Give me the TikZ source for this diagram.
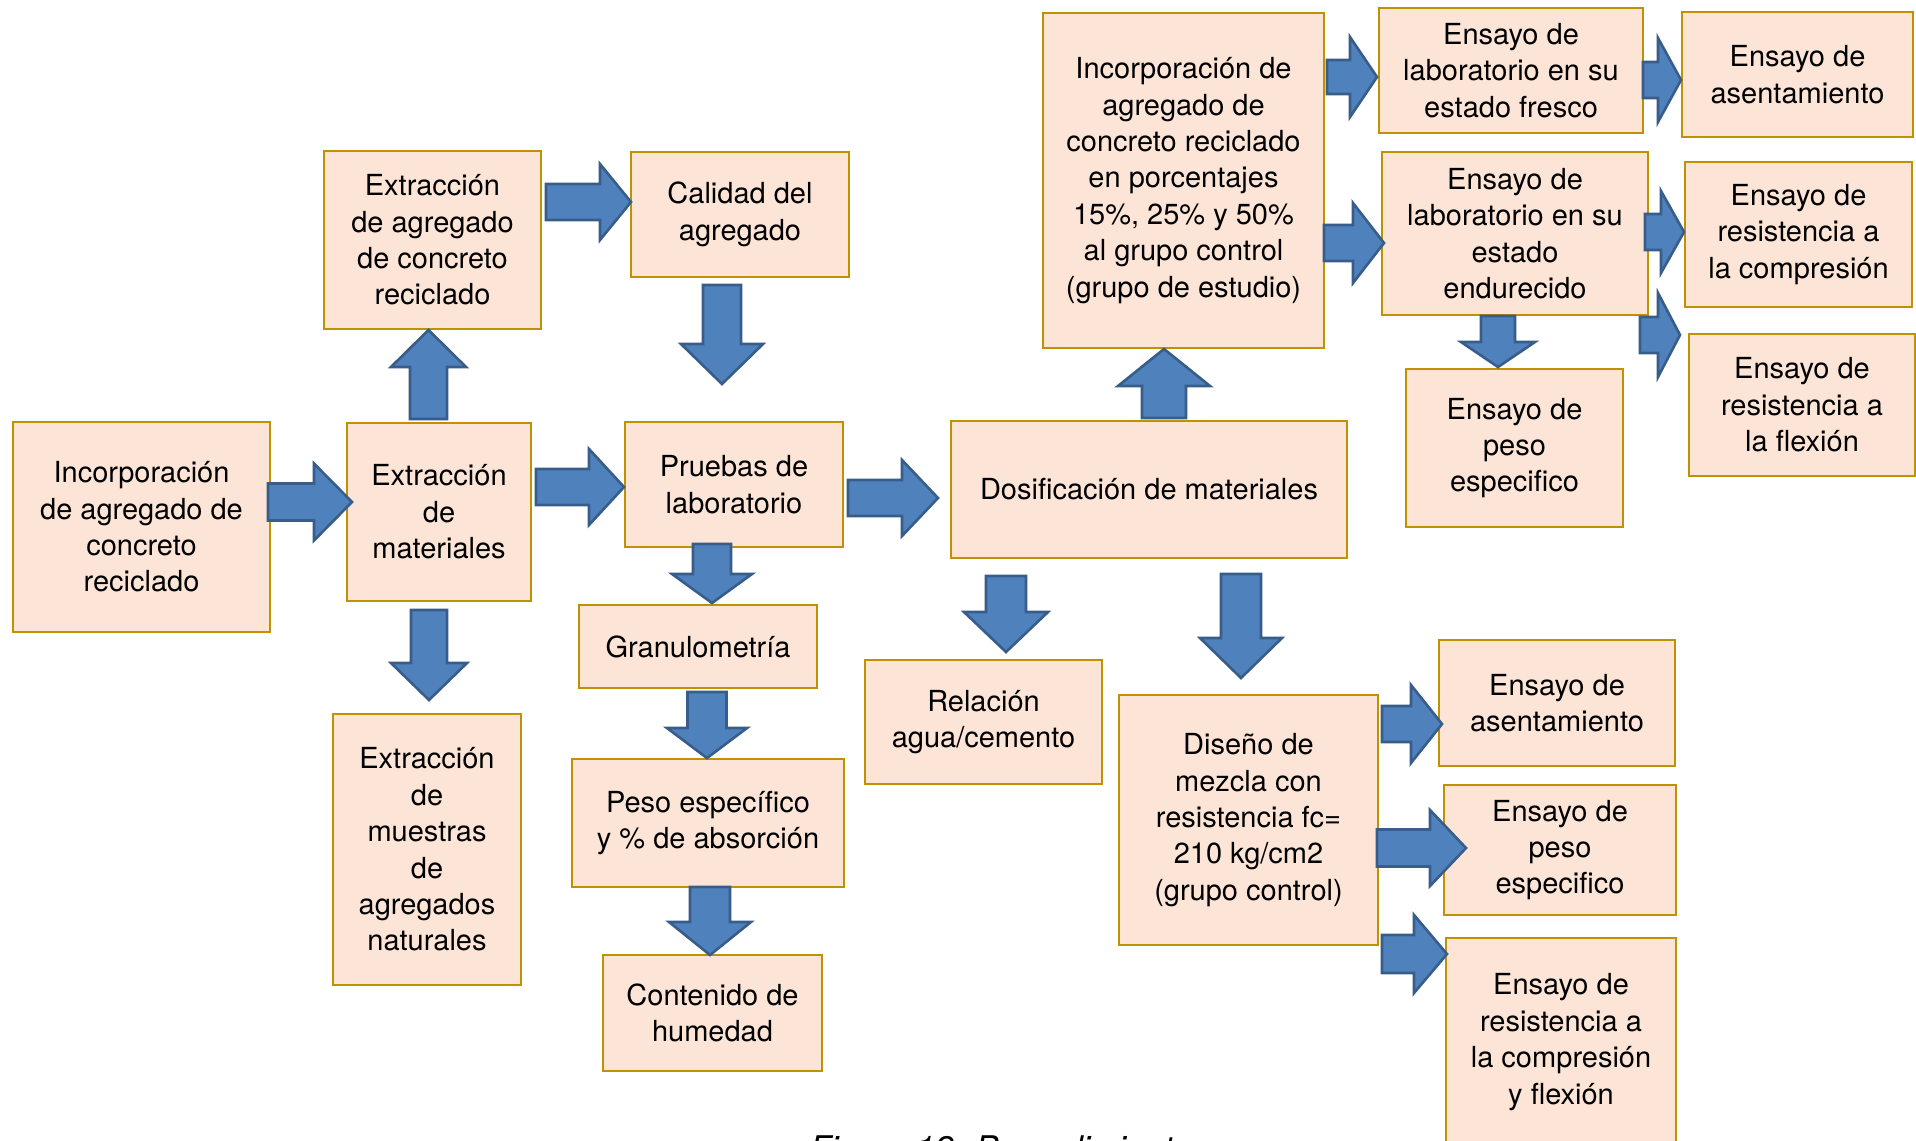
\documentclass[tikz,border=0pt]{standalone}
\usepackage{fontspec}
\setmainfont{TeX Gyre Heros}
\definecolor{peach}{RGB}{252,228,214}
\definecolor{goldb}{RGB}{192,145,0}
\definecolor{arrfill}{RGB}{79,129,189}
\definecolor{arrline}{RGB}{56,93,138}
\tikzset{
  box/.style={draw=goldb, fill=peach, line width=2.6pt, inner sep=0pt, align=center,
    font=\fontsize{29}{36.4}\selectfont},
  blockarrow/.style={draw=arrline, fill=arrfill, line width=2.6pt, line join=miter}
}
% box: name, cx, cy, w, h, text
\newcommand{\bx}[6]{\node[box, minimum width=#4pt, minimum height=#5pt] (#1) at (#2,#3) {#6};}
% right arrow: x1, x2, yc, shaft half, head half, head length
\newcommand{\bkR}[6]{\draw[blockarrow] (#1,#3-#4) -- (#2-#6,#3-#4) -- (#2-#6,#3-#5) -- (#2,#3) -- (#2-#6,#3+#5) -- (#2-#6,#3+#4) -- (#1,#3+#4) -- cycle;}
% down arrow: xc, y1, y2, shaft half, head half, head length
\newcommand{\bkD}[6]{\draw[blockarrow] (#1-#4,#2) -- (#1+#4,#2) -- (#1+#4,#3-#6) -- (#1+#5,#3-#6) -- (#1,#3) -- (#1-#5,#3-#6) -- (#1-#4,#3-#6) -- cycle;}
% up arrow: xc, ybottom, ytop, shaft half, head half, head length
\newcommand{\bkU}[6]{\draw[blockarrow] (#1-#4,#2) -- (#1+#4,#2) -- (#1+#4,#3+#6) -- (#1+#5,#3+#6) -- (#1,#3) -- (#1-#5,#3+#6) -- (#1-#4,#3+#6) -- cycle;}
\begin{document}
\begin{tikzpicture}[x=1pt, y=-1pt]
\useasboundingbox[fill=white] (0,0) rectangle (1916,1140);

\bx{b1}{141.5}{527}{257}{210}{Incorporación\\de agregado de\\concreto\\reciclado}
\bx{b2}{439}{512}{184}{178}{Extracción\\de\\materiales}
\bx{b3}{432.5}{240}{217}{178}{Extracción\\de agregado\\de concreto\\reciclado}
\bx{b4}{740}{214.5}{218}{125}{Calidad del\\agregado}
\bx{b5}{734}{484.5}{218}{125}{Pruebas de\\laboratorio}
\bx{b6}{698}{646.5}{238}{83}{Granulometría}
\bx{b7}{708}{823}{272}{128}{Peso específico\\y \% de absorción}
\bx{b8}{712.5}{1013}{219}{116}{Contenido de\\humedad}
\bx{b9}{427}{849.5}{188}{271}{Extracción\\de\\muestras\\de\\agregados\\naturales}
\bx{b10}{1149}{489.5}{396}{137}{Dosificación de materiales}
\bx{b11}{983.5}{722}{237}{124}{Relación\\agua/cemento}
\bx{b12}{1248.5}{820}{259}{250}{Diseño de\\mezcla con\\resistencia fc=\\210 kg/cm2\\(grupo control)}
\bx{b13}{1183.5}{180.5}{281}{335}{Incorporación de\\agregado de\\concreto reciclado\\en porcentajes\\15\%, 25\% y 50\%\\al grupo control\\(grupo de estudio)}
\bx{b14}{1511}{70.5}{264}{125}{Ensayo de\\laboratorio en su\\estado fresco}
\bx{b15}{1797.5}{74.5}{231}{125}{Ensayo de\\asentamiento}
\bx{b16}{1515}{233.5}{266}{163}{Ensayo de\\laboratorio en su\\estado\\endurecido}
\bx{b17}{1798.5}{234.5}{227}{145}{Ensayo de\\resistencia a\\la compresión}
\bx{b18}{1802}{405}{226}{142}{Ensayo de\\resistencia a\\la flexión}
\bx{b19}{1514.5}{448}{217}{158}{Ensayo de\\peso\\especifico}
\bx{b20}{1557}{703}{236}{126}{Ensayo de\\asentamiento}
\bx{b21}{1560}{850}{232}{130}{Ensayo de\\peso\\especifico}
\bx{b22}{1561}{1042}{230}{208}{Ensayo de\\resistencia a\\la compresión\\y flexión}

% right arrows
\bkR{268}{352}{502}{18.5}{38.5}{38}
\bkR{536}{624}{487}{18}{38}{35}
\bkR{546}{631}{202}{18}{38}{31}
\bkR{848}{938}{498}{18}{38}{36}
\bkR{1327}{1377}{77}{17}{40}{27}
\bkR{1324}{1384}{243}{18}{40}{31}
\bkR{1643}{1681}{80}{18}{42}{23}
\bkR{1645}{1684}{232}{18}{41}{23}
\bkR{1640}{1680}{335}{18}{42}{22}
\bkR{1382}{1442}{724}{18}{39}{31}
\bkR{1377}{1466}{848}{18.5}{38}{36}
\bkR{1382}{1447}{954}{19}{39}{33}
% down arrows
\bkD{429}{610}{700}{18}{38}{37}
\bkD{722}{285}{384}{19}{41}{40}
\bkD{712}{544}{603}{19}{40}{29}
\bkD{707}{692}{758}{19.5}{40}{30}
\bkD{710}{887}{955}{20}{41}{33}
\bkD{1006}{576}{652}{20}{42}{40}
\bkD{1241}{574}{678}{20}{41}{40}
\bkD{1498}{316}{367}{17}{37}{25}
% up arrows
\bkU{428.5}{419}{330}{18.5}{37.5}{37}
\bkU{1164}{418}{349}{22}{46}{37}

% caption (cut by the page edge, as in the reference)
\node[anchor=base west, inner sep=0pt, font=\fontsize{34}{40}\selectfont\itshape] (cap) at (810,1160) {Figura 12. Procedimiento};
\end{tikzpicture}
\end{document}
